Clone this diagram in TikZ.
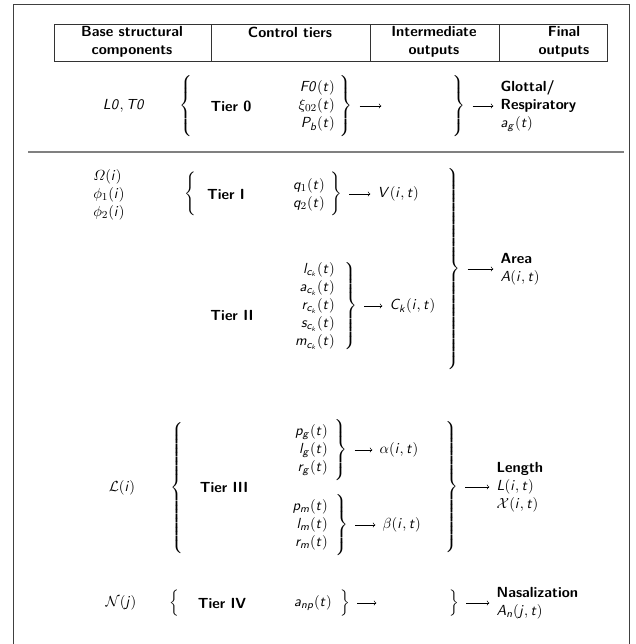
\documentclass[tikz,border=0pt]{standalone}
\usepackage{amsmath}
% sans serif italic letters in math, as on the slide
\DeclareSymbolFont{sfletters}{OT1}{cmss}{m}{it}
\DeclareMathAlphabet{\mathsfit}{OT1}{cmss}{m}{it}
\makeatletter
\@tfor\sfl:=abcdefghijklmnopqrstuvwxyzABCDEFGHIJKLMNOPQRSTUVWXYZ\do{%
  \edef\sfdecl{\noexpand\DeclareMathSymbol{\sfl}{\noexpand\mathalpha}{sfletters}{`\sfl}}\sfdecl}
\makeatother
\delimiterfactor=1000
\delimitershortfall=0pt
\newcommand{\diagfont}{\fontsize{11}{13.6}\selectfont\sffamily}
\newcommand{\openbr}[1]{$\left\{\vcenter{\hbox{\rule{0pt}{#1}}}\right.$}
\newcommand{\closebr}[1]{$\left.\vcenter{\hbox{\rule{0pt}{#1}}}\right\}$}
\tikzset{
  every node/.append style={font=\diagfont},
  head/.style={font=\diagfont\bfseries, align=center},
  tier/.style={font=\diagfont\bfseries},
  stack/.style={inner sep=0pt},
  brace/.style={inner sep=0pt},
  outbox/.style={align=left},
  arr/.style={-to, line width=0.45pt, shorten <=5pt, shorten >=2pt},
  frameline/.style={draw=black!75, line width=0.6pt},
  tabline/.style={draw=black!80, line width=0.6pt},
  sepline/.style={draw=black!50, line width=1.2pt}
}
\begin{document}
\begin{tikzpicture}[x=0.75pt, y=-0.75pt]
\useasboundingbox (0,0) rectangle (636,644);
\draw[frameline] (13,644) -- (13,4) -- (629,4) -- (629,644);
% header
\draw[tabline] (54,24) rectangle (607,61);
\draw[tabline] (211,24) -- (211,61) (370,24) -- (370,61) (499,24) -- (499,61);
\node[head] (hbase) at (132,42) {Base structural\\components};
\node[head] (hctrl) at (290,32) {Control tiers};
\node[head] (hinter) at (434,42) {Intermediate\\outputs};
\node[head] (hfinal) at (564,42) {Final\\outputs};
% tier 0
\node (lt) at (124,106) {$\mathsfit{L0}, \mathsfit{T0}$};
\node[brace] (b0l) at (187,106) {\openbr{40pt}};
\node[tier] (t0) at (231,106) {Tier 0};
\node[stack, anchor=east] (t0in) at (335,106) {$\begin{array}{@{}r@{}} \mathsfit{F0}(t)\\ \xi_{02}(t)\\ P_b(t)\end{array}$};
\node[brace] (b0in) at (345.5,106) {\closebr{40pt}};
\coordinate (m0) at (384,106);
\draw[arr] (b0in.east) -- (m0);
\node[brace] (b0out) at (458.5,106) {\closebr{40pt}};
\node[outbox, anchor=west] (glot) at (496,106) {\textbf{Glottal/}\\\textbf{Respiratory}\\$a_g(t)$};
\draw[arr] (b0out.east) -- (b0out.east -| glot.west);
\draw[sepline] (28,152) -- (624,152);
% tier I
\node[stack, anchor=west] (omega) at (93,195) {$\begin{array}{@{}l@{}} \varOmega(i)\\ \phi_1(i)\\ \phi_2(i)\end{array}$};
\node[brace] (b1l) at (191.5,194) {\openbr{27pt}};
\node[tier] (t1) at (226,194) {Tier I};
\node[stack, anchor=east] (t1in) at (325,194.5) {$\begin{array}{@{}r@{}} q_1(t)\\ q_2(t)\end{array}$};
\node[brace] (b1in) at (335.5,194) {\closebr{27pt}};
\node[anchor=west] (vit) at (373,194) {$V(i,t)$};
\draw[arr] (b1in.east) -- (b1in.east -| vit.west);
% tier II
\node[tier] (t2) at (232,315) {Tier II};
\node[stack, anchor=east] (t2in) at (335,306) {$\begin{array}{@{}r@{}} l_{c_k}(t)\\ a_{c_k}(t)\\ r_{c_k}(t)\\ s_{c_k}(t)\\ m_{c_k}(t)\end{array}$};
\node[brace] (b2in) at (350,306) {\closebr{64pt}};
\node[anchor=west] (ckit) at (385,306) {$C_k(i,t)$};
\draw[arr] (b2in.east) -- (b2in.east -| ckit.west);
% area
\node[brace] (barea) at (453.5,269) {\closebr{149pt}};
\node[outbox, anchor=west] (area) at (496,269) {\textbf{Area}\\$A(i,t)$};
\draw[arr] (barea.east) -- (barea.east -| area.west);
% tier III
\node (lcal) at (122,488) {$\mathcal{L}(i)$};
\node[brace] (b3l) at (177.5,488) {\openbr{95pt}};
\node[tier] (t3) at (224,487) {Tier III};
\node[stack, anchor=east] (t3g) at (328,450) {$\begin{array}{@{}r@{}} p_g(t)\\ l_g(t)\\ r_g(t)\end{array}$};
\node[brace] (b3g) at (340.5,450) {\closebr{41pt}};
\node[anchor=west] (alph) at (375,450) {$\alpha(i,t)$};
\draw[arr] (b3g.east) -- (b3g.east -| alph.west);
\node[stack, anchor=east] (t3m) at (328,525) {$\begin{array}{@{}r@{}} p_m(t)\\ l_m(t)\\ r_m(t)\end{array}$};
\node[brace] (b3m) at (341,525) {\closebr{41pt}};
\node[anchor=west] (bet) at (378,525) {$\beta(i,t)$};
\draw[arr] (b3m.east) -- (b3m.east -| bet.west);
\node[brace] (blen) at (451,487) {\closebr{96pt}};
\node[outbox, anchor=west] (len) at (492,487) {\textbf{Length}\\$L(i,t)$\\$\mathcal{X}(i,t)$};
\draw[arr] (blen.east) -- (blen.east -| len.west);
% tier IV
\node (ncal) at (121,603) {$\mathcal{N}(j)$};
\node[brace] (b4l) at (175.5,603) {\openbr{18pt}};
\node[tier] (t4) at (222,603) {Tier IV};
\node[stack, anchor=east] (t4in) at (332,603) {$a_{np}(t)$};
\node[brace] (b4in) at (344.5,603) {\closebr{18pt}};
\coordinate (m4) at (379,603);
\draw[arr] (b4in.east) -- (m4);
\node[brace] (b4out) at (453.5,603) {\closebr{18pt}};
\node[outbox, anchor=west] (nas) at (492,603) {\textbf{Nasalization}\\$A_n(j,t)$};
\draw[arr] (b4out.east) -- (b4out.east -| nas.west);
\end{tikzpicture}
\end{document}
